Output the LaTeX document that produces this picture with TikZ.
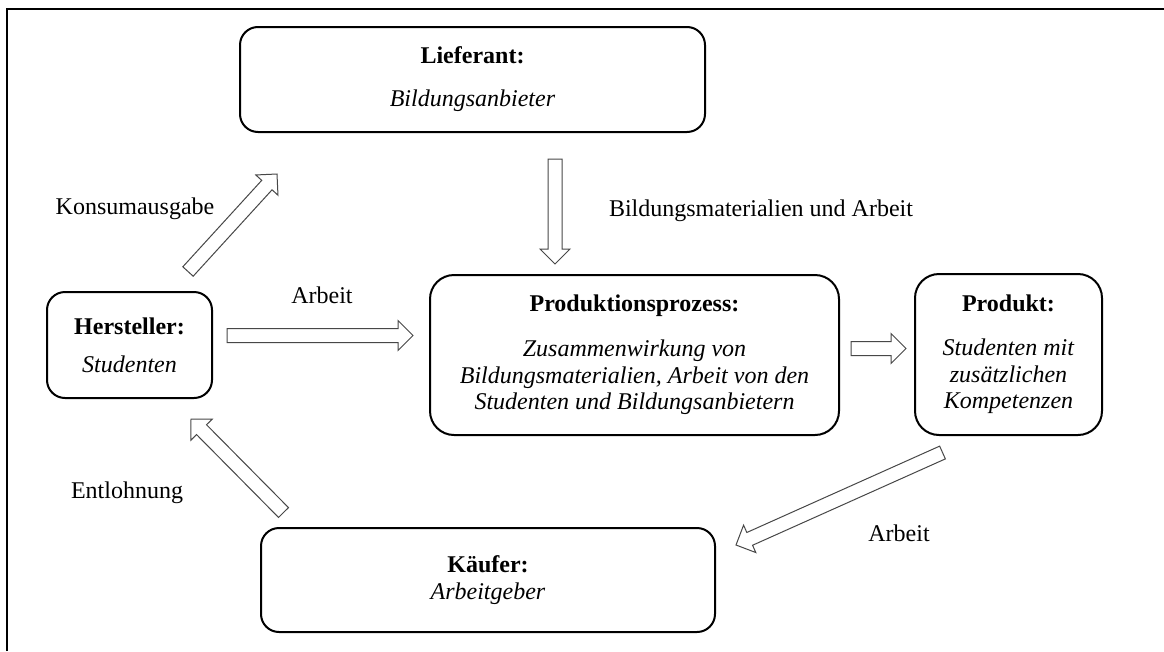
\documentclass[tikz,border=0pt]{standalone}
\usepackage{fontspec}
\setmainfont{Liberation Serif}
\usetikzlibrary{calc}

% hollow block arrow from #1 (tail) to #2 (tip)
\newcommand\hollowarrow[2]{%
  \draw[blockarrow]
    ($(#1)!7pt!90:(#2)$)
    -- ($(#2)!15pt!(#1)!7pt!90:(#2)$)
    -- ($(#2)!15pt!(#1)!15pt!90:(#2)$)
    -- (#2)
    -- ($(#2)!15pt!(#1)!15pt!-90:(#2)$)
    -- ($(#2)!15pt!(#1)!7pt!-90:(#2)$)
    -- ($(#1)!7pt!-90:(#2)$)
    -- cycle;}

\begin{document}
\begin{tikzpicture}[x=1pt,y=-1pt,
  every node/.style={font=\fontsize{24}{26.5}\selectfont},
  box/.style={draw=black, line width=2pt, rounded corners=18pt,
    align=center, inner sep=0pt},
  blockarrow/.style={draw=black!72, line width=1pt, fill=white, line join=miter},
  lbl/.style={anchor=base}]

\useasboundingbox (0,0) rectangle (1164,651);
\fill[white] (0,0) rectangle (1164,651);

% frame
\draw[line width=2pt] (7,651) -- (7,9) -- (1164,9);

% boxes
\node[box, minimum width=465pt, minimum height=105pt] (lief) at (472.5,79.5)
  {\textbf{Lieferant:}\\[16.5pt]\textit{Bildungsanbieter}};
\node[box, minimum width=165pt, minimum height=106pt] (herst) at (129.5,345)
  {\textbf{Hersteller:}\\[11.5pt]\textit{Studenten}};
\node[box, minimum width=409pt, minimum height=160pt, rounded corners=24pt] (prod) at (634.5,355)
  {\textbf{Produktionsprozess:}\\[18.5pt]\textit{Zusammenwirkung von}\\
   \textit{Bildungsmaterialien, Arbeit von den}\\
   \textit{Studenten und Bildungsanbietern}};
\node[box, minimum width=187pt, minimum height=161pt, rounded corners=24pt] (produkt) at (1008.5,354.5)
  {\textbf{Produkt:}\\[17.5pt]\textit{Studenten mit}\\
   \textit{zusätzlichen}\\ \textit{Kompetenzen}};
\node[box, minimum width=454pt, minimum height=104pt] (kauf) at (488,580)
  {\textbf{Käufer:}\\\textit{Arbeitgeber}};

% arrow end points
\coordinate (konsS) at (188,271.5);  \coordinate (konsE) at (277,174);
\coordinate (bildS) at (555,159);    \coordinate (bildE) at (555,264);
\coordinate (arbS)  at (227,335.5);  \coordinate (arbE)  at (413,335.5);
\coordinate (prS)   at (851,348.5);  \coordinate (prE)   at (906,348.5);
\coordinate (arb2S) at (942.5,452.5);\coordinate (arb2E) at (736,545);
\coordinate (entS)  at (283.5,512.5);\coordinate (entE)  at (191,419);

\hollowarrow{konsS}{konsE}
\hollowarrow{bildS}{bildE}
\hollowarrow{arbS}{arbE}
\hollowarrow{prS}{prE}
\hollowarrow{arb2S}{arb2E}
\hollowarrow{entS}{entE}

% arrow labels
\node[lbl] (lkons) at (135,214) {Konsumausgabe};
\node[lbl] (lbild) at (761,216) {Bildungsmaterialien und Arbeit};
\node[lbl] (larb)  at (322,303) {Arbeit};
\node[lbl] (lent)  at (127,498) {Entlohnung};
\node[lbl] (larb2) at (899,541) {Arbeit};
\end{tikzpicture}
\end{document}
